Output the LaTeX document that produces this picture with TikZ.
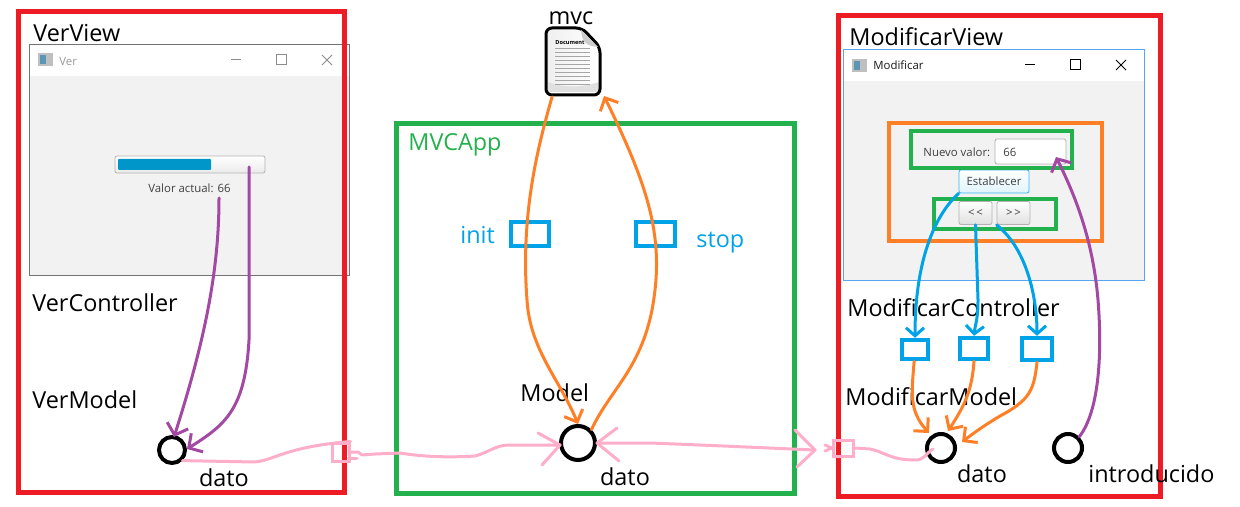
\documentclass[tikz,border=0pt]{standalone}
\usepackage{fontspec}
\setmainfont{Open Sans}
\usetikzlibrary{arrows.meta}
\definecolor{redframe}{HTML}{ED1C24}
\definecolor{greenframe}{HTML}{22B14C}
\definecolor{orangeline}{HTML}{FF7F27}
\definecolor{blueline}{HTML}{00A2E8}
\definecolor{purpleline}{HTML}{A349A4}
\definecolor{pinkline}{HTML}{FFAEC9}
\definecolor{winback}{HTML}{F2F2F2}
\definecolor{winblue}{HTML}{5AA5F0}
\definecolor{barblue}{HTML}{0096C9}

\tikzset{
  title/.style={font=\fontsize{11.7}{13}\selectfont, inner sep=0pt, anchor=west},
  uitext/.style={font=\fontsize{5.7}{7}\selectfont, text=black!75, inner sep=0pt},
  frame/.style={draw=redframe, line width=2.5pt},
  greenbox/.style={draw=greenframe, line width=2pt},
  bluebox/.style={draw=blueline, line width=2.2pt, inner sep=0pt},
  dot/.style={draw=black, line width=2pt, circle, inner sep=0pt},
  button/.style={draw=black!30, line width=0.4pt, rounded corners=1pt, top color=white, bottom color=black!12, inner sep=0pt},
  sketch/.style={line width=1.5pt, line cap=round, line join=round},
  toorange/.style={sketch, orangeline, -{Straight Barb[length=5pt, width=10pt]}},
  toblue/.style={sketch, blueline, -{Straight Barb[length=4pt, width=9pt]}},
  topurple/.style={sketch, purpleline, -{Straight Barb[length=5pt, width=11pt]}},
  topink/.style={sketch, pinkline},
  windash/.style={line width=0.5pt}
}

\begin{document}
\begin{tikzpicture}[x=0.5pt, y=-0.5pt]
  \useasboundingbox (0,0) rectangle (1240,507);

  % left window
  \node[draw=black!55, line width=0.5pt, fill=white, minimum width=160pt, minimum height=115.5pt, inner sep=0pt] (verwin) at (189,160.5) {};
  \fill[winback] (29.5,76) rectangle (348.5,275.5);
  \fill[black!25] (38,53) rectangle (53,66);
  \fill[greenframe!60!blue!70] (40,55) rectangle (46,64);
  \node[uitext, text=black!40, anchor=west] (vertitle) at (59,61) {Ver};
  \draw[windash, black!45] (231,60) -- (241,60);
  \draw[windash, black!45] (276,55) rectangle (286,65);
  \draw[windash, black!45] (322,55) -- (332,65) (332,55) -- (322,65);
  \node[draw=black!30, line width=0.4pt, rounded corners=1pt, top color=white, bottom color=black!8, minimum width=75pt, minimum height=8.5pt, inner sep=0pt] (verbar) at (190,164.5) {};
  \fill[barblue, rounded corners=0.5pt] (118,159) rectangle (211,170);
  \node[uitext] (veractual) at (189.5,188) {Valor actual: 66};

  % right window
  \node[draw=winblue, line width=0.5pt, fill=white, minimum width=150.5pt, minimum height=115.5pt, inner sep=0pt] (modwin) at (993.5,165.5) {};
  \fill[winback] (843.5,81) rectangle (1143.5,280.5);
  \fill[black!25] (852,59) rectangle (867,72);
  \fill[greenframe!60!blue!70] (854,61) rectangle (860,70);
  \node[uitext, text=black!90, anchor=west] (modtitle) at (873,65) {Modificar};
  \draw[windash, black] (1025,65) -- (1035,65);
  \draw[windash, black] (1070,60) rectangle (1080,70);
  \draw[windash, black] (1116,60) -- (1126,70) (1126,60) -- (1116,70);
  \node[uitext, anchor=west] (nuevo) at (923,152) {Nuevo valor:};
  \node[draw=black!30, line width=0.4pt, rounded corners=1pt, fill=white, minimum width=35.5pt, minimum height=12.5pt, inner sep=0pt] (campo) at (1030.5,151.5) {};
  \node[uitext, anchor=west] (valor) at (1003,152) {66};
  \node[button, draw=blueline!80, bottom color=blueline!12, minimum width=35pt, minimum height=11.5pt, uitext] (establecer) at (994,181.5) {Establecer};
  \node[button, minimum width=16.5pt, minimum height=11.5pt, uitext] (atras) at (975.5,213) {<\,<};
  \node[button, minimum width=16.5pt, minimum height=11.5pt, uitext] (delante) at (1013.5,213) {>\,>};

  % marcos
  \draw[frame] (18,12) rectangle (344,492);
  \draw[frame] (838,16) rectangle (1160,496);
  \draw[greenframe, line width=2.5pt] (396,124) rectangle (794,493);
  \draw[orangeline, line width=2pt] (889,123) rectangle (1102,241);
  \draw[greenbox] (911,131) rectangle (1072,168);
  \draw[greenbox] (934,199) rectangle (1056,229);

  % documento
  \path[left color=black!6, right color=white] (548,30) -- (580,30) -- (599,50) -- (599,90) -- (548,90) -- cycle;
  \fill[black!12] (585,92) -- (548,92) -- (548,82) .. controls (565,88) and (580,88) .. (599,82) -- (599,92) -- cycle;
  \foreach \y in {48,52,...,84} \draw[black!35, line width=0.4pt] (555,\y) -- (590,\y);
  \node[font=\fontsize{2.8}{3}\selectfont\bfseries, inner sep=0pt, anchor=west] (doctitle) at (555,43) {Document};
  \draw[black, line width=1.5pt, rounded corners=3pt] (546,28) -- (582,28) -- (600,47) -- (600,95) -- (546,95) -- cycle;
  \fill[black!20] (581,30) .. controls (582,42) and (586,46) .. (598,47) -- cycle;

  % textos
  \node[title] (verview) at (33,33) {VerView};
  \node[title] (vercontroller) at (32,303) {VerController};
  \node[title] (vermodel) at (32,400) {VerModel};
  \node[title, anchor=center] (mvc) at (571,18) {mvc};
  \node[title, text=greenframe] (mvcapp) at (408,145) {MVCApp};
  \node[title, text=blueline] (init) at (460,235) {init};
  \node[title, text=blueline] (stop) at (696,243) {stop};
  \node[title] (model) at (520,393) {Model};
  \node[title] (modview) at (849,37) {ModificarView};
  \node[title] (modcontroller) at (847,308) {ModificarController};
  \node[title] (modmodel) at (845,397) {ModificarModel};
  \node[title, anchor=center] (datover) at (224,478) {dato};
  \node[title, anchor=center] (datoapp) at (625,477) {dato};
  \node[title, anchor=center] (datomod) at (982,474) {dato};
  \node[title] (introducido) at (1088,474) {introducido};

  % nodos
  \node[dot, minimum size=13pt] (dver) at (172,450) {};
  \node[dot, minimum size=17pt] (dapp) at (578,443) {};
  \node[dot, minimum size=14pt] (dmod) at (941,448) {};
  \node[dot, minimum size=14pt] (dintro) at (1068,448) {};
  \node[bluebox, minimum width=19pt, minimum height=12pt] (initbox) at (530,234) {};
  \node[bluebox, minimum width=19.5pt, minimum height=12pt] (stopbox) at (655.5,234) {};
  \node[bluebox, minimum width=13pt, minimum height=9.5pt] (seta) at (915,349.5) {};
  \node[bluebox, minimum width=14pt, minimum height=10.5pt] (setb) at (974,348.5) {};
  \node[bluebox, minimum width=15pt, minimum height=11pt] (setc) at (1037,349) {};
  \node[draw=pinkline, line width=1.5pt, inner sep=0pt, minimum width=8.5pt, minimum height=9pt] (pinkver) at (340.5,452) {};
  \node[draw=pinkline, line width=1.5pt, inner sep=0pt, minimum width=10pt, minimum height=8pt] (pinkmod) at (843,448) {};

  \coordinate (tipcampo) at (1056,157);
  \coordinate (tipbar) at (249,167);
  \coordinate (tipactual) at (219,198);
  \coordinate (tipdoc) at (604,96);
  \coordinate (tipapp) at (560,445);
  \coordinate (tipout) at (815,450);
  \coordinate (tipmod) at (933,449);

  % morado
  \draw[topurple] (tipactual) .. controls (219,270) and (205,340) .. (174,437);
  \draw[topurple] (tipbar) -- (249,340) .. controls (245,410) and (225,425) .. (187,449);
  \draw[topurple] (dintro.north east) .. controls (1100,410) and (1102,350) .. (1098,300) .. controls (1093,240) and (1075,195) .. (tipcampo);

  % azul
  \draw[toblue] (establecer.south west) .. controls (935,215) and (915,260) .. (seta.north);
  \draw[toblue] (atras.south) -- (978,300) .. controls (978,320) and (975,325) .. (setb.north);
  \draw[toblue] (delante.south west) .. controls (1028,250) and (1037,300) .. (setc.north);

  % naranja
  \draw[toorange] (seta) .. controls (912,390) and (908,410) .. (929,433);
  \draw[toorange] (setb.south) .. controls (972,390) and (965,405) .. (948,431);
  \draw[toorange] (setc.south) .. controls (1034,390) and (1030,400) .. (1000,416) .. controls (985,425) and (975,432) .. (962,442);
  \draw[toorange] (552,97) .. controls (540,140) and (520,210) .. (527,300) .. controls (530,350) and (560,380) .. (dapp.north);
  \draw[toorange] (dapp.north east) .. controls (610,390) and (640,370) .. (652,310) .. controls (665,240) and (650,190) .. (tipdoc);

  % rosa
  \draw[topink] (dver.south east) -- (255,462) .. controls (275,460) and (285,447) .. (pinkver.north east);
  \draw[topink] (pinkver.east) -- (358,452) -- (362,455) -- (375,454) -- (400,453) .. controls (430,458) and (460,457) .. (475,456) .. controls (490,452) and (495,445) .. (510,445) -- (tipapp);
  \draw[topink] (349,458) -- (357,458);
  \draw[topink] (538,433) -- (tipapp) -- (542,465);
  \draw[topink] (dapp.east) -- (650,443) -- (700,445) -- (tipout);
  \draw[topink] (617,428) -- (dapp.east) -- (619,461);
  \draw[topink] (795,430) -- (tipout) -- (797,467);
  \draw[topink] (825,445) -- (pinkmod.west);
  \draw[topink] (825,451) -- (pinkmod.west);
  \draw[topink] (pinkmod.east) -- (870,449) .. controls (885,452) and (890,460) .. (915,460) .. controls (925,460) and (925,454) .. (tipmod);
\end{tikzpicture}
\end{document}
